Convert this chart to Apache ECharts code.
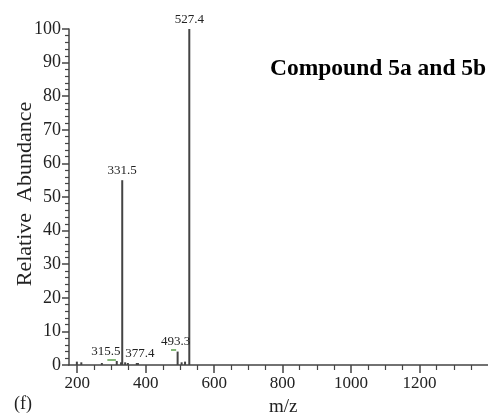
<!DOCTYPE html>
<html>
<head>
<meta charset="utf-8">
<script src="https://cdn.jsdelivr.net/npm/echarts@6/dist/echarts.min.js"></script>
<style>
  html, body { margin: 0; padding: 0; background: #fff; }
  #chart { width: 488px; height: 415px; }
</style>
</head>
<body>
<div id="chart"></div>
<script>
// peaks (m/z, relative abundance)
const peakMz = [199, 212, 272, 315.5, 328, 331.5, 340, 348, 374, 377.4, 493.3, 505, 515, 527.4];
const peakAbund = [1.0, 0.8, 0.6, 1.2, 0.8, 55, 0.8, 0.6, 0.6, 0.6, 4.0, 0.8, 1.0, 100];
const peakLabels = ['', '', '', '315.5', '', '331.5', '', '', '', '377.4', '493.3', '', '', '527.4'];

// green marks under labels
const markA = [[288, 1.5], [313, 1.5]];
const markB = [[474, 4.5], [489, 4.5]];

const xMajor = [200, 400, 600, 800, 1000, 1200];
const xMinor = [250, 300, 350, 450, 500, 550, 650, 700, 750, 850, 900, 950, 1050, 1100, 1150, 1250, 1300, 1350];

// label nudges per peak label
const labelOffset = {
    '315.5': [-11, 0],
    '377.4': [2, 0],
    '493.3': [-2, 0]
};

const serif = '"Liberation Serif", "DejaVu Serif", serif';
const ink = '#444';

let myChart = echarts.init(document.getElementById('chart'));

let peakData = peakMz.map((m, i) => {
    let item = { value: [m, peakAbund[i]] };
    if (peakLabels[i]) {
        item.label = {
            show: true,
            position: 'top',
            formatter: peakLabels[i],
            offset: labelOffset[peakLabels[i]] || [0, 0]
        };
    }
    return item;
});

let xBase = {
    type: 'value',
    min: 176,
    max: 1400,
    splitLine: { show: false },
    axisLine: { show: true, onZero: false, lineStyle: { color: ink, width: 1.5 } }
};

let option = {
    backgroundColor: '#fff',
    animation: false,
    grid: { left: 69, right: 0, top: 29, bottom: 50 },
    xAxis: [
        Object.assign({}, xBase, {
            axisTick: { show: true, customValues: xMajor, length: 8, lineStyle: { color: ink, width: 1.5 } },
            axisLabel: {
                customValues: xMajor,
                formatter: v => String(v),
                color: '#222',
                fontFamily: serif,
                fontSize: 17,
                margin: 10
            }
        }),
        Object.assign({}, xBase, {
            position: 'bottom',
            axisLine: { show: false },
            axisTick: { show: true, customValues: xMinor, length: 5, lineStyle: { color: ink, width: 1.2 } },
            axisLabel: { show: false }
        })
    ],
    yAxis: {
        type: 'value',
        min: 0,
        max: 100,
        interval: 10,
        splitLine: { show: false },
        axisLine: { show: true, lineStyle: { color: ink, width: 1.5 } },
        axisTick: { show: true, length: 7, lineStyle: { color: ink, width: 1.5 } },
        minorTick: { show: true, splitNumber: 5, length: 4, lineStyle: { color: ink, width: 1.2 } },
        axisLabel: { color: '#222', fontFamily: serif, fontSize: 18, margin: 8 }
    },
    graphic: [
        {
            type: 'text',
            left: 270,
            top: 57,
            style: {
                text: 'Compound 5a and 5b',
                font: 'bold 23.5px ' + serif,
                fill: '#000'
            }
        },
        {
            type: 'text',
            x: 25,
            y: 194,
            rotation: Math.PI / 2,
            style: {
                text: 'Relative  Abundance',
                font: '22px ' + serif,
                fill: '#222',
                align: 'center',
                verticalAlign: 'middle'
            }
        },
        {
            type: 'text',
            x: 269,
            y: 407,
            style: {
                text: 'm/z',
                font: '19px ' + serif,
                fill: '#222',
                verticalAlign: 'middle'
            }
        },
        {
            type: 'text',
            x: 14,
            y: 404,
            style: {
                text: '(f)',
                font: '18px ' + serif,
                fill: '#222',
                verticalAlign: 'middle'
            }
        }
    ],
    series: [
        {
            type: 'bar',
            barWidth: 2,
            barGap: '-100%',
            itemStyle: { color: ink },
            label: { color: '#222', fontFamily: serif, fontSize: 13, distance: 3 },
            data: peakData
        },
        {
            type: 'line',
            symbol: 'none',
            lineStyle: { color: '#5aa04a', width: 1.5 },
            data: markA
        },
        {
            type: 'line',
            symbol: 'none',
            lineStyle: { color: '#5aa04a', width: 1.5 },
            data: markB
        }
    ]
};

myChart.setOption(option, true);
</script>
</body>
</html>
